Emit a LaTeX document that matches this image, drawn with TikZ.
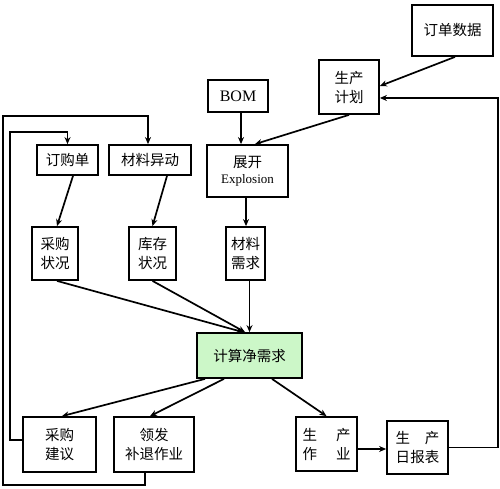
\documentclass[tikz,border=0pt]{standalone}
\usepackage{fontspec}
\setmainfont{Liberation Serif}
\newfontfamily\cjk{Noto Sans CJK SC}
\usetikzlibrary{arrows.meta,calc}
\definecolor{boxgreen}{RGB}{204,247,200}
\tikzset{
  box/.style={draw=black, line width=1.8pt, fill=white, inner sep=0pt, align=center,
    font=\cjk\fontsize{14.5}{19}\selectfont},
  conn/.style={line width=1.7pt, -{Stealth[length=7pt,width=6pt]}}
}
\begin{document}
\begin{tikzpicture}[x=1pt,y=-1pt]
\useasboundingbox (0,0) rectangle (500,489);
\node[box, minimum width=81pt, minimum height=51pt] (sjd) at (452.5,30.5) {订单数据};
\node[box, minimum width=60pt, minimum height=54pt] (scjh) at (349,87) {生产\\计划};
\node[box, minimum width=60pt, minimum height=32pt, font=\fontsize{16}{18}\selectfont] (bom) at (238,96) {BOM};
\node[box, minimum width=81pt, minimum height=52pt] (zk) at (247.5,171) {展开\\[-3pt]{\rmfamily\fontsize{13}{15}\selectfont Explosion}};
\node[box, minimum width=61pt, minimum height=30pt] (dgd) at (67.5,160) {订购单};
\node[box, minimum width=82pt, minimum height=30pt] (clyd) at (150,160) {材料异动};
\node[box, minimum width=46pt, minimum height=53pt] (cgzk) at (55,253.5) {采购\\状况};
\node[box, minimum width=47pt, minimum height=53pt] (kczk) at (152.5,253.5) {库存\\状况};
\node[box, minimum width=39pt, minimum height=53pt] (clxq) at (245.5,253.5) {材料\\需求};
\node[box, fill=boxgreen, minimum width=105pt, minimum height=45pt] (js) at (249.5,355.5) {计算净需求};
\node[box, minimum width=73pt, minimum height=55pt] (cgjy) at (59.5,444.5) {采购\\建议};
\node[box, minimum width=80pt, minimum height=55pt] (lf) at (154,444.5) {领发\\补退作业};
\node[box, minimum width=61pt, minimum height=54pt] (sczy) at (326.5,444) {\makebox[48pt]{生\hfill 产}\\\makebox[48pt]{作\hfill 业}};
\node[box, minimum width=61pt, minimum height=53pt] (scrb) at (417.5,447.5) {\makebox[44pt]{生\hfill 产}\\\makebox[44pt]{日\hfill 报\hfill 表}};
\coordinate (lo) at (3,485);
\coordinate (lu) at (3,116);
% connectors
\draw[conn] ($(sjd.south)+(2.5,0)$) -- ($(scjh.east)+(0,-1)$);
\draw[conn] (scjh.south) -- ($(zk.north)+(7.5,0)$);
\draw[conn] ($(bom.south)+(3,0)$) -- ($(zk.north)+(-6.5,0)$);
\draw[conn] ($(zk.south)+(-1.5,0)$) -- ($(clxq.north)+(0.5,0)$);
\draw[conn] (scrb.east) -- ++(49,0) |- ($(scjh.east)+(0,11)$);
\draw[conn] ($(dgd.south)+(5.5,0)$) -- ($(cgzk.north)+(2,0)$);
\draw[conn] ($(clyd.south)+(17,0)$) -- (kczk.north);
\draw[conn] ($(cgzk.south)+(2,0)$) -- ($(js.north)+(-6.5,0)$);
\draw[conn] (kczk.south) -- ($(js.north)+(-4.5,0)$);
\draw[conn] ($(clxq.south)+(4,0)$) -- (js.north);
\draw[conn] ($(js.south)+(-44.5,0)$) -- ($(cgjy.north)+(2.5,0)$);
\draw[conn] ($(js.south)+(-25.5,0)$) -- ($(lf.north)+(-4,0)$);
\draw[conn] ($(js.south)+(22.5,0)$) -- (sczy.north);
\draw[conn] ($(sczy.east)+(0,5)$) -- ($(scrb.west)+(0,1.5)$);
\draw[conn] ($(cgjy.west)+(0,-4.5)$) -- ++(-12,0) |- ($(dgd.north)+(0,-12)$) -- (dgd.north);
\draw[conn] ($(lf.south)+(-9,0)$) |- (lo) -- (lu) -| ($(clyd.north)+(-2,0)$);
\end{tikzpicture}
\end{document}
